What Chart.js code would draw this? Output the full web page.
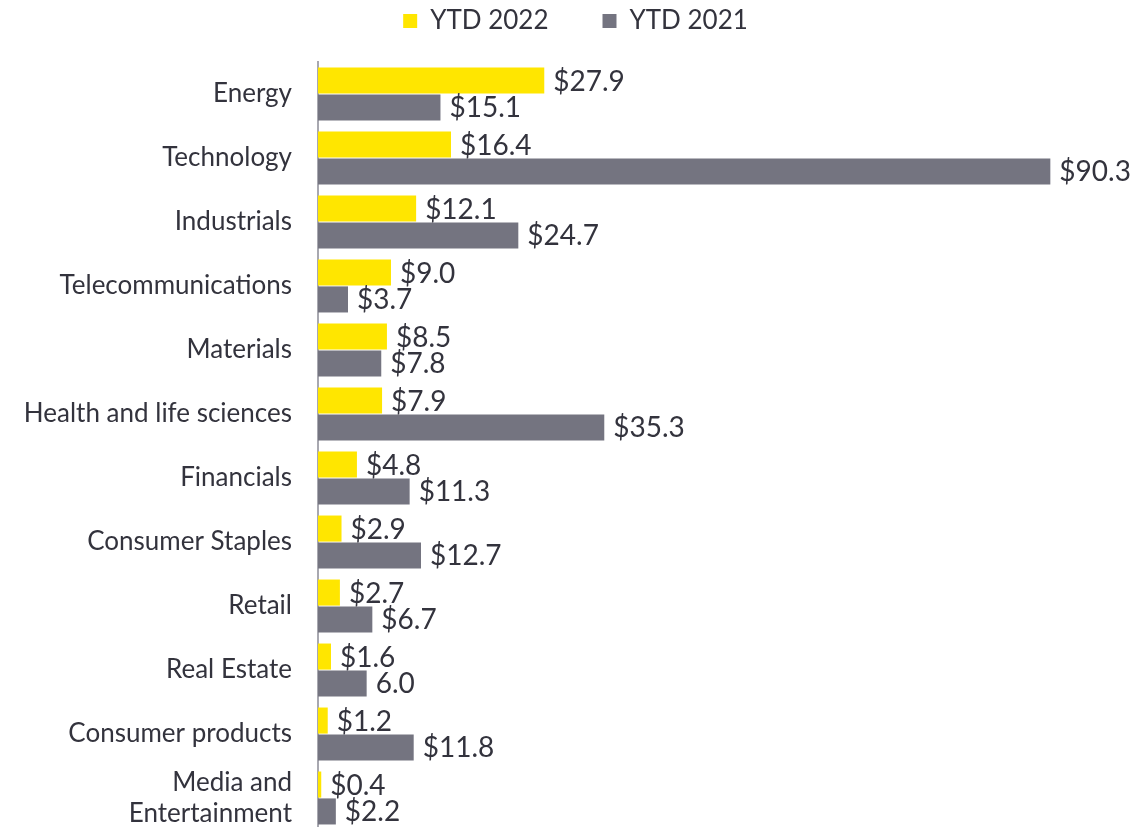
<!DOCTYPE html>
<html>
<head>
<meta charset="utf-8">
<title>IPO proceeds by sector</title>
<script src="https://cdn.jsdelivr.net/npm/chart.js@4.4.0/dist/chart.umd.min.js"></script>
<style>
  html, body { margin: 0; padding: 0; background: #fff; overflow: hidden; }
</style>
</head>
<body>
<canvas id="sectorChart" width="1145" height="833"></canvas>
<script>
const sectors = [
  "Energy", "Technology", "Industrials", "Telecommunications", "Materials",
  "Health and life sciences", "Financials", "Consumer Staples", "Retail",
  "Real Estate", "Consumer products", ["Media and", "Entertainment"]
];
const ytd2022 = [27.9, 16.4, 12.1, 9.0, 8.5, 7.9, 4.8, 2.9, 2.7, 1.6, 1.2, 0.4];
const ytd2021 = [15.1, 90.3, 24.7, 3.7, 7.8, 35.3, 11.3, 12.7, 6.7, 6.0, 11.8, 2.2];
// real estate 2021 is printed without the dollar sign
const plainLabels2021 = [9];

const fontFamily = "Lato, 'Liberation Sans', sans-serif";
const textColor = "#33333d";
const legendGap = 54;
const legendFontSize = 26;

// keep the legend compact: fixed height, items pulled up near the top edge
const legendPlacement = {
  id: "legendPlacement",
  beforeInit(chart) {
    const fit = chart.legend.fit;
    chart.legend.fit = function () {
      fit.call(this);
      this.height = 62;
    };
  },
  afterLayout(chart) {
    const lg = chart.legend;
    lg.top = 21 - legendGap - legendFontSize / 2;
    lg.left += 11;
    lg.right += 11;
  }
};

// value labels at the end of each bar
const barValueLabels = {
  id: "barValueLabels",
  afterDatasetsDraw(chart) {
    const ctx = chart.ctx;
    ctx.save();
    ctx.font = "28px " + fontFamily;
    ctx.fillStyle = textColor;
    ctx.textAlign = "left";
    ctx.textBaseline = "middle";
    chart.data.datasets.forEach((ds, di) => {
      chart.getDatasetMeta(di).data.forEach((bar, i) => {
        const noSign = di === 1 && plainLabels2021.includes(i);
        const text = (noSign ? "" : "$") + ds.data[i].toFixed(1);
        ctx.fillText(text, bar.x + 9, bar.y + 1);
      });
    });
    ctx.restore();
  }
};

const ctx = document.getElementById("sectorChart").getContext("2d");

new Chart(ctx, {
  type: "bar",
  data: {
    labels: sectors,
    datasets: [
      {
        label: "YTD 2022",
        data: ytd2022,
        backgroundColor: "#ffe600",
        categoryPercentage: 0.84,
        barPercentage: 0.97
      },
      {
        label: "YTD 2021",
        data: ytd2021,
        backgroundColor: "#747480",
        categoryPercentage: 0.84,
        barPercentage: 0.97
      }
    ]
  },
  options: {
    indexAxis: "y",
    responsive: false,
    animation: false,
    layout: { padding: { right: 16, bottom: 3 } },
    plugins: {
      legend: {
        position: "top",
        labels: {
          boxWidth: 14,
          boxHeight: 14,
          padding: legendGap,
          color: textColor,
          font: { family: fontFamily, size: legendFontSize }
        }
      },
      tooltip: { enabled: false }
    },
    scales: {
      x: { display: false, min: 0, max: 100 },
      y: {
        grid: { display: false, drawTicks: false },
        border: { display: true, color: "#a8a8b0", width: 2 },
        ticks: {
          autoSkip: false,
          padding: 26,
          color: textColor,
          font: { family: fontFamily, size: 26, lineHeight: 1.2 }
        },
        afterFit(scale) {
          scale.width = 318;
          scale.paddingTop = 0;
          scale.paddingBottom = 0;
        }
      }
    }
  },
  plugins: [legendPlacement, barValueLabels]
});
</script>
</body>
</html>
